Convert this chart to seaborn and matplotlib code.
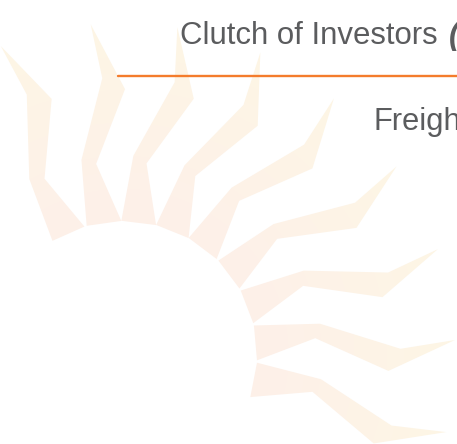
import numpy as np
import matplotlib
matplotlib.use("Agg")
import matplotlib.pyplot as plt
from matplotlib.path import Path
from matplotlib.patches import PathPatch
import seaborn as sns

# slide fragment: title, orange rule, subtitle and the faint sun logo behind
title = "Clutch of Investors "
title_note = "(2/2)"
subtitle = "Freight"

# sun rays: angle of each ray (degrees, counter-clockwise from the right)
ray_angles = [114, 98, 83, 68, 53, 37, 21, 5, -11]
# ray outline in (distance from centre, sideways offset), pixels
ray_r = [133, 199, 277, 332, 263, 193, 133]
ray_v = [-18, -14, 18, 14, 39, 0, 17]
sun_centre = (123, 355)
sun_radius = 133

ray_base_colour = "#fdf0e9"
ray_tip_colour = "#fef6e5"
text_colour = "#5b5c5e"
rule_colour = "#f47c2c"

sns.set_theme(style="white")
plt.rcParams['font.family'] = ['Liberation Sans', 'DejaVu Sans']

W, H = 457, 444
fig = plt.figure(figsize=(W / 100, H / 100), dpi=100)
ax = fig.add_axes([0, 0, 1, 1])
ax.set_xlim(0, W)
ax.set_ylim(H, 0)
ax.axis("off")

# build the rays as one compound path
cx, cy = sun_centre
verts, codes = [], []
for a in ray_angles:
    t = np.deg2rad(a)
    r = np.array(ray_r, dtype=float)
    v = np.array(ray_v, dtype=float)
    xs = cx + r * np.cos(t) + v * np.sin(t)
    ys = cy - r * np.sin(t) + v * np.cos(t)
    pts = list(zip(xs, ys))
    verts += pts + [pts[0]]
    codes += [Path.MOVETO] + [Path.LINETO] * (len(pts) - 1) + [Path.CLOSEPOLY]
rays = PathPatch(Path(verts, codes), facecolor="none", edgecolor="none")
ax.add_patch(rays)

# radial colour fade from base to tip, clipped to the rays
gx, gy = np.meshgrid(np.arange(W) + 0.5, np.arange(H) + 0.5)
dist = np.hypot(gx - cx, gy - cy)
f = np.clip((dist - sun_radius) / (330 - sun_radius), 0, 1)[..., None]
c0 = np.array(matplotlib.colors.to_rgb(ray_base_colour))
c1 = np.array(matplotlib.colors.to_rgb(ray_tip_colour))
img = c0 * (1 - f) + c1 * f
im = ax.imshow(img, extent=(0, W, H, 0), interpolation="bilinear", zorder=1)
im.set_clip_path(rays)

# orange rule under the title
sns.lineplot(x=[118, W + 5], y=[75.7, 75.7], color=rule_colour, linewidth=1.7,
             ax=ax, zorder=3)

t1 = ax.text(180, 44, title, fontsize=22.4, color=text_colour, zorder=4,
             va="baseline", ha="left")
ax.annotate(title_note, xy=(1, 0), xycoords=t1, xytext=(3, 0),
            textcoords="offset pixels", fontsize=22.4, color=text_colour,
            fontstyle="italic", fontweight="bold", va="bottom", ha="left",
            zorder=4)
ax.text(373, 130, subtitle, fontsize=22.2, color=text_colour, zorder=4,
        va="baseline", ha="left")

fig.savefig("out.png", dpi=100)
